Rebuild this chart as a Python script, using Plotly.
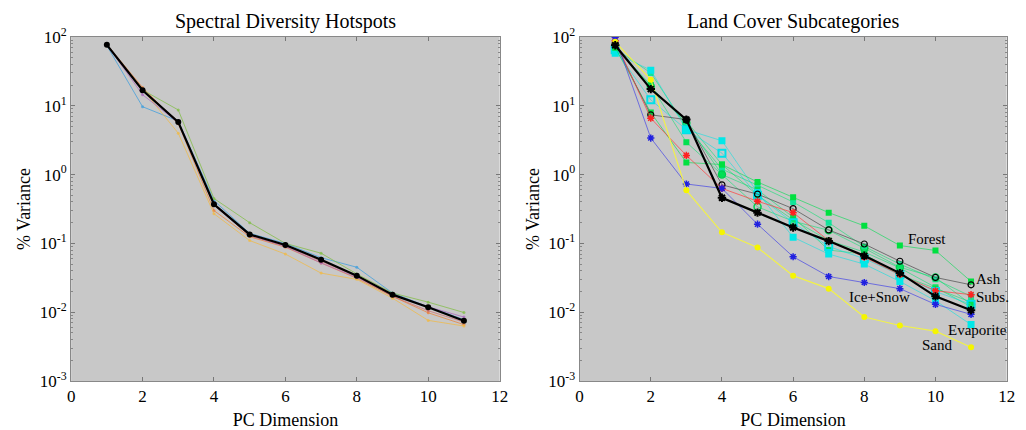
import math
import plotly.graph_objects as go

pc = list(range(1, 12))

# Left panel: Spectral Diversity Hotspots
hot_black = [77, 16.8, 5.8, 0.37, 0.135, 0.095, 0.058, 0.034, 0.018, 0.0118, 0.0075]
hot_blue = [75, 9.7, 6.0, 0.42, 0.14, 0.10, 0.062, 0.045, 0.019, 0.012, 0.0078]
hot_orange = [78, 18.5, 5.5, 0.30, 0.125, 0.088, 0.052, 0.031, 0.017, 0.0098, 0.0066]
hot_yellow = [76, 17.5, 4.0, 0.27, 0.11, 0.070, 0.037, 0.030, 0.016, 0.0076, 0.0063]
hot_purple = [77, 14.5, 5.7, 0.36, 0.13, 0.090, 0.052, 0.032, 0.018, 0.012, 0.0085]
hot_green = [76, 17.0, 8.7, 0.45, 0.20, 0.10, 0.072, 0.036, 0.019, 0.014, 0.0099]
hot_red = [78, 17.0, 5.9, 0.36, 0.13, 0.092, 0.055, 0.033, 0.017, 0.0105, 0.0072]

# Right panel: Land Cover Subcategories
lc_mean = [76, 17.5, 6.3, 0.46, 0.28, 0.17, 0.108, 0.066, 0.037, 0.017, 0.0107]
lc_ice = [99, 3.4, 0.73, 0.63, 0.19, 0.064, 0.033, 0.027, 0.022, 0.013, 0.0093]
lc_sand = [85, 24, 0.59, 0.145, 0.087, 0.034, 0.022, 0.0085, 0.0064, 0.0053, 0.0031]
lc_subs = [88, 6.6, 1.9, 0.63, 0.41, 0.28, 0.11, 0.063, 0.035, 0.0205, 0.018]
lc_ash = [80, 7.4, 6.3, 0.71, 0.52, 0.32, 0.157, 0.098, 0.055, 0.032, 0.025]
lc_forest = [70, 8.0, 1.5, 1.4, 0.78, 0.47, 0.28, 0.18, 0.093, 0.079, 0.028]
lc_evap = [58, 33, 4.5, 3.1, 0.55, 0.123, 0.070, 0.050, 0.028, 0.0147, 0.0066]
lc_cyan2 = [65, 12.2, 4.5, 2.05, 0.50, 0.20, 0.090, 0.060, 0.035, 0.020, 0.013]
lc_green2 = [72, 20, 2.95, 1.0, 0.60, 0.24, 0.080, 0.070, 0.035, 0.022, 0.014]
lc_green3 = [74, 19, 5.6, 1.0, 0.34, 0.21, 0.155, 0.085, 0.045, 0.032, 0.013]
lc_green4 = [68, 30, 5.0, 1.2, 0.70, 0.40, 0.20, 0.090, 0.050, 0.030, 0.017]
lc_green5 = [75, 18, 6.0, 1.4, 0.50, 0.22, 0.11, 0.075, 0.044, 0.023, 0.012]

labels = ["Forest", "Ash", "Subs.", "Ice+Snow", "Evaporite", "Sand"]
label_x = [9.75, 11.5, 11.6, 8.43, 11.17, 10.05]
label_y = [0.116, 0.030, 0.0168, 0.0168, 0.0055, 0.00333]

y_tickvals = [0.001, 0.01, 0.1, 1, 10, 100]
y_ticktext = ["10<sup>-3</sup>", "10<sup>-2</sup>", "10<sup>-1</sup>",
              "10<sup>0</sup>", "10<sup>1</sup>", "10<sup>2</sup>"]
y_minor = [m * d for d in [0.001, 0.01, 0.1, 1, 10] for m in range(2, 10)]

FONT = "Liberation Serif, Times New Roman, serif"
fig = go.Figure()

def add(x, y, ax, lc, mc, sym, ms, lw, mlw=0):
    fig.add_trace(go.Scatter(
        x=x, y=y, mode="lines+markers", xaxis="x" + ax, yaxis="y" + ax,
        line=dict(color=lc, width=lw),
        marker=dict(color=mc, symbol=sym, size=ms, line=dict(color=mc, width=mlw)),
        showlegend=False, hoverinfo="skip"))

# left
for ser, col in [(hot_blue, "rgba(70,160,220,0.8)"), (hot_orange, "rgba(235,130,60,0.75)"),
                 (hot_yellow, "rgba(240,185,70,0.75)"), (hot_purple, "rgba(170,100,190,0.7)"),
                 (hot_green, "rgba(130,190,70,0.75)"), (hot_red, "rgba(210,90,90,0.6)")]:
    add(pc, ser, "", col, col, "circle", 3, 1)
add(pc, hot_black, "", "black", "black", "circle", 6, 2.2)

# right
sg = "rgba(0,225,110,0.55)"
cy = "rgba(0,225,225,0.55)"
add(pc, lc_green4, "2", sg, "rgba(0,230,150,0.9)", "square", 6, 1)
add(pc, lc_green5, "2", sg, "rgba(0,230,90,0.9)", "square", 6, 1)
add(pc, lc_green2, "2", sg, "#00E050", "square", 6, 1)
add(pc, lc_green3, "2", sg, "#00D050", "circle-open", 7, 1, 1.5)
add(pc, lc_cyan2, "2", cy, "#00E0E8", "square-open", 7, 1, 2)
add(pc, lc_evap, "2", cy, "#00E8E8", "square", 7, 1)
add(pc, lc_forest, "2", "rgba(0,220,80,0.6)", "#00E040", "square", 6, 1)
add(pc, lc_ash, "2", "rgba(90,90,90,0.8)", "black", "circle-open", 6, 1, 1.2)
add(pc, lc_subs, "2", "rgba(255,60,60,0.7)", "#FF2020", "asterisk-open", 6, 1, 1.5)
add(pc, lc_ice, "2", "rgba(70,70,230,0.7)", "#2020E0", "asterisk-open", 6, 1, 1.5)
add(pc, lc_sand, "2", "rgba(245,245,60,0.9)", "#F5F500", "circle", 6, 1.2)
add(pc, lc_mean, "2", "black", "black", "asterisk-open", 7, 2.2, 2)

ax_common = dict(showgrid=False, zeroline=False, showline=True, mirror="ticks",
                 linecolor="#888", linewidth=1, ticks="inside", ticklen=4,
                 tickcolor="#777", tickfont=dict(family=FONT, size=17, color="black"))

xa = dict(range=[0, 12], dtick=2,
          title=dict(text="PC Dimension", font=dict(size=18), standoff=10), **ax_common)
ya = dict(type="log", range=[-3, 2], tickvals=y_tickvals, ticktext=y_ticktext,
          minor=dict(tickmode="array", tickvals=y_minor, ticks="inside", ticklen=2,
                     tickcolor="#888", showgrid=False),
          title=dict(text="% Variance", font=dict(size=18), standoff=4), **ax_common)

W = 1026.0
fig.update_layout(
    width=1026, height=430,
    margin=dict(l=0, r=0, t=37, b=49),
    paper_bgcolor="white", plot_bgcolor="#C8C8C8",
    font=dict(family=FONT, color="black"),
    xaxis=dict(domain=[68 / W, 502 / W], anchor="y", **xa),
    yaxis=dict(anchor="x", **ya),
    xaxis2=dict(domain=[583 / W, 1015.5 / W], anchor="y2", **xa),
    yaxis2=dict(anchor="x2", **ya),
)

fig.add_annotation(text="Spectral Diversity Hotspots", x=(68 + 502) / 2 / W, y=1, xref="paper",
                   yref="paper", xanchor="center", yanchor="bottom", yshift=2, showarrow=False,
                   font=dict(size=20, family=FONT))
fig.add_annotation(text="Land Cover Subcategories", x=(583 + 1015.5) / 2 / W, y=1, xref="paper",
                   yref="paper", xanchor="center", yanchor="bottom", yshift=2, showarrow=False,
                   font=dict(size=20, family=FONT))

for t, lx, ly in zip(labels, label_x, label_y):
    fig.add_annotation(text=t, x=lx, y=math.log10(ly), xref="x2", yref="y2", showarrow=False,
                       font=dict(size=15, family=FONT, color="black"))

fig.write_html("out.html")
